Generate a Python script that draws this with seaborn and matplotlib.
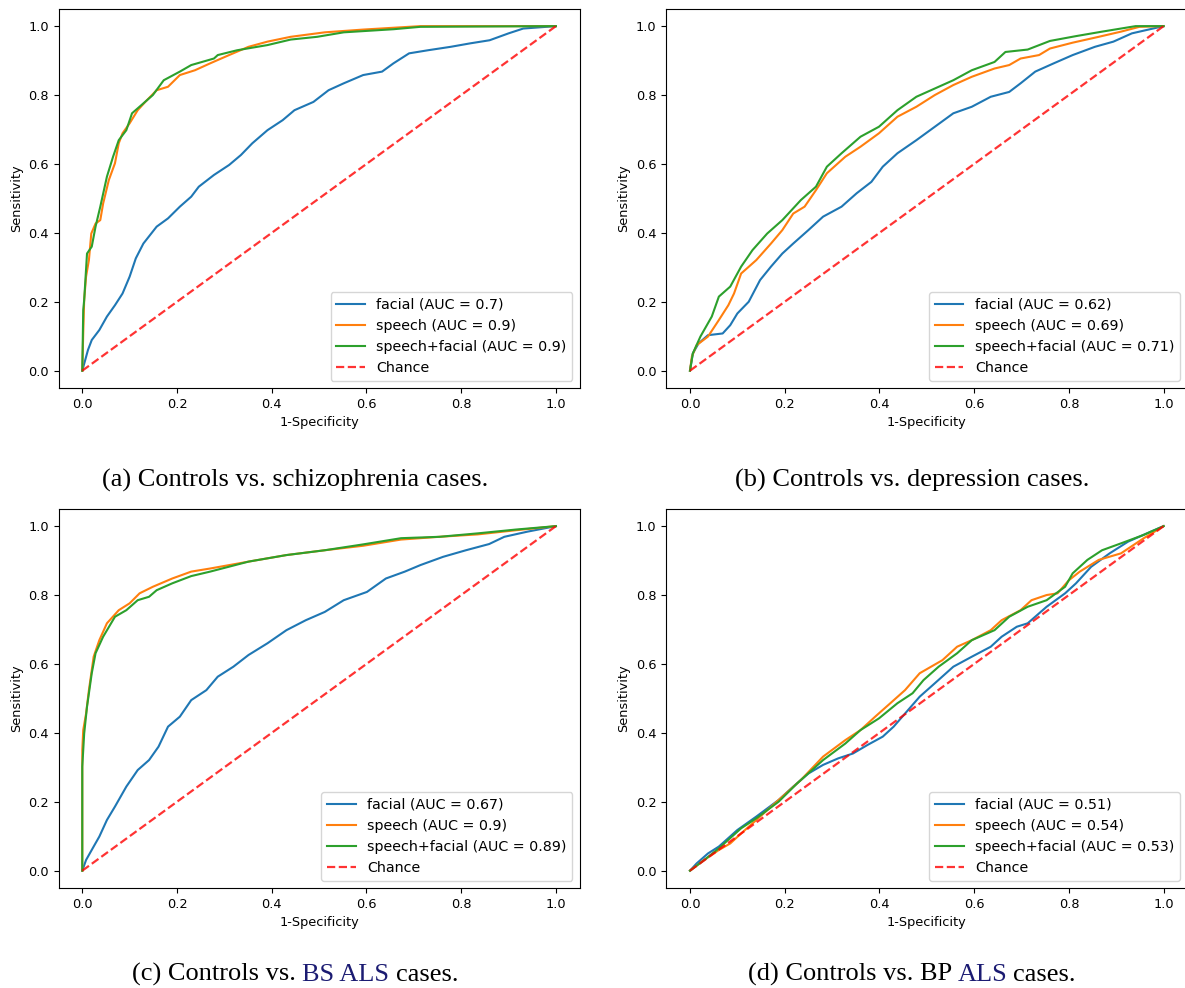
import matplotlib
matplotlib.use("Agg")
import matplotlib.pyplot as plt
import seaborn as sns
import pandas as pd

# ---------------- ROC curve points (false positive rate, true positive rate) ----------------
# (a) controls vs. schizophrenia
scz_facial_fpr = [0, 0.012, 0.02, 0.036, 0.052, 0.069, 0.085, 0.10, 0.113, 0.129, 0.157, 0.181, 0.206,
                  0.23, 0.246, 0.278, 0.31, 0.335, 0.359, 0.391, 0.423, 0.448, 0.488, 0.52, 0.552, 0.593,
                  0.633, 0.657, 0.69, 0.73, 0.778, 0.819, 0.86, 0.90, 0.931, 1.0]
scz_facial_tpr = [0, 0.06, 0.089, 0.118, 0.157, 0.19, 0.224, 0.273, 0.326, 0.369, 0.418, 0.442, 0.476,
                  0.505, 0.534, 0.568, 0.597, 0.626, 0.66, 0.698, 0.727, 0.756, 0.78, 0.814, 0.834, 0.858,
                  0.868, 0.892, 0.921, 0.93, 0.94, 0.95, 0.959, 0.979, 0.993, 1.0]
scz_speech_fpr = [0, 0.002, 0.004, 0.008, 0.014, 0.019, 0.028, 0.038, 0.044, 0.056, 0.069, 0.077, 0.085,
                  0.10, 0.117, 0.133, 0.157, 0.181, 0.206, 0.238, 0.27, 0.31, 0.351, 0.391, 0.44, 0.512,
                  0.593, 0.714, 1.0]
scz_speech_tpr = [0, 0.108, 0.205, 0.273, 0.321, 0.398, 0.427, 0.437, 0.485, 0.553, 0.602, 0.66, 0.689,
                  0.718, 0.756, 0.78, 0.814, 0.824, 0.858, 0.872, 0.892, 0.916, 0.94, 0.955, 0.969, 0.982,
                  0.99, 1.0, 1.0]
scz_both_fpr = [0, 0.002, 0.004, 0.01, 0.02, 0.028, 0.038, 0.052, 0.065, 0.077, 0.093, 0.105, 0.125,
                0.149, 0.172, 0.206, 0.23, 0.278, 0.286, 0.327, 0.391, 0.44, 0.496, 0.552, 0.657, 0.714, 1.0]
scz_both_tpr = [0, 0.176, 0.205, 0.34, 0.36, 0.418, 0.476, 0.563, 0.621, 0.669, 0.698, 0.747, 0.771,
                0.80, 0.843, 0.868, 0.887, 0.906, 0.916, 0.93, 0.945, 0.961, 0.969, 0.982, 0.991, 0.998, 1.0]

# (b) controls vs. depression
dep_facial_fpr = [0, 0.006, 0.018, 0.038, 0.069, 0.085, 0.10, 0.124, 0.148, 0.171, 0.195, 0.218, 0.25,
                  0.281, 0.32, 0.352, 0.383, 0.407, 0.438, 0.478, 0.517, 0.556, 0.595, 0.635, 0.674, 0.698,
                  0.729, 0.768, 0.808, 0.855, 0.894, 0.933, 1.0]
dep_facial_tpr = [0, 0.05, 0.079, 0.103, 0.108, 0.132, 0.166, 0.20, 0.263, 0.302, 0.34, 0.369, 0.408,
                  0.447, 0.476, 0.515, 0.548, 0.592, 0.631, 0.669, 0.708, 0.747, 0.766, 0.795, 0.809, 0.834,
                  0.868, 0.892, 0.916, 0.94, 0.955, 0.979, 1.0]
dep_speech_fpr = [0, 0.004, 0.014, 0.038, 0.061, 0.081, 0.093, 0.108, 0.14, 0.171, 0.195, 0.218, 0.242,
                  0.266, 0.289, 0.328, 0.36, 0.399, 0.438, 0.478, 0.517, 0.556, 0.595, 0.643, 0.674, 0.698,
                  0.737, 0.76, 0.808, 0.863, 0.91, 0.949, 1.0]
dep_speech_tpr = [0, 0.041, 0.074, 0.099, 0.147, 0.19, 0.224, 0.282, 0.321, 0.369, 0.408, 0.456, 0.476,
                  0.524, 0.573, 0.621, 0.65, 0.689, 0.737, 0.766, 0.80, 0.829, 0.853, 0.877, 0.887, 0.906,
                  0.916, 0.935, 0.952, 0.969, 0.984, 0.998, 1.0]
dep_both_fpr = [0, 0.006, 0.022, 0.046, 0.061, 0.085, 0.108, 0.132, 0.163, 0.195, 0.234, 0.266, 0.289,
                0.32, 0.36, 0.399, 0.438, 0.478, 0.517, 0.556, 0.595, 0.643, 0.666, 0.713, 0.76, 0.815,
                0.87, 0.941, 1.0]
dep_both_tpr = [0, 0.05, 0.099, 0.157, 0.215, 0.244, 0.302, 0.35, 0.398, 0.437, 0.495, 0.534, 0.592,
                0.631, 0.679, 0.708, 0.756, 0.795, 0.819, 0.843, 0.872, 0.896, 0.925, 0.932, 0.957, 0.971,
                0.984, 1.0, 1.0]

# (c) controls vs. BS ALS
bs_facial_fpr = [0, 0.008, 0.024, 0.036, 0.052, 0.069, 0.093, 0.117, 0.141, 0.161, 0.181, 0.206, 0.23,
                 0.262, 0.286, 0.319, 0.351, 0.391, 0.431, 0.472, 0.512, 0.552, 0.601, 0.641, 0.681, 0.714,
                 0.762, 0.81, 0.859, 0.891, 0.94, 1.0]
bs_facial_tpr = [0, 0.031, 0.07, 0.099, 0.147, 0.186, 0.244, 0.292, 0.321, 0.36, 0.418, 0.447, 0.495,
                 0.524, 0.563, 0.592, 0.626, 0.66, 0.698, 0.727, 0.751, 0.785, 0.809, 0.848, 0.868, 0.887,
                 0.911, 0.93, 0.948, 0.969, 0.984, 1.0]
bs_speech_fpr = [0, 0, 0.002, 0.008, 0.014, 0.024, 0.036, 0.052, 0.077, 0.10, 0.121, 0.149, 0.19, 0.23,
                 0.27, 0.351, 0.431, 0.512, 0.593, 0.673, 0.754, 0.835, 0.915, 1.0]
bs_speech_tpr = [0, 0.35, 0.408, 0.456, 0.524, 0.621, 0.669, 0.718, 0.756, 0.776, 0.805, 0.824, 0.848,
                 0.868, 0.877, 0.897, 0.916, 0.93, 0.943, 0.961, 0.969, 0.976, 0.988, 1.0]
bs_both_fpr = [0, 0, 0.004, 0.01, 0.02, 0.028, 0.044, 0.069, 0.093, 0.117, 0.141, 0.157, 0.19, 0.23,
               0.27, 0.351, 0.431, 0.512, 0.593, 0.673, 0.754, 0.835, 0.915, 1.0]
bs_both_tpr = [0, 0.302, 0.398, 0.476, 0.573, 0.631, 0.679, 0.737, 0.756, 0.785, 0.795, 0.814, 0.834,
               0.855, 0.868, 0.897, 0.916, 0.93, 0.947, 0.965, 0.969, 0.979, 0.99, 1.0]

# (d) controls vs. BP ALS
bp_facial_fpr = [0, 0.014, 0.038, 0.061, 0.10, 0.14, 0.187, 0.218, 0.25, 0.281, 0.313, 0.344, 0.375,
                 0.407, 0.43, 0.454, 0.485, 0.517, 0.556, 0.595, 0.635, 0.658, 0.69, 0.713, 0.753, 0.792,
                 0.815, 0.847, 0.886, 0.925, 0.973, 1.0]
bp_facial_tpr = [0, 0.021, 0.05, 0.07, 0.118, 0.157, 0.205, 0.244, 0.282, 0.307, 0.326, 0.34, 0.365,
                 0.389, 0.418, 0.456, 0.505, 0.544, 0.592, 0.621, 0.65, 0.679, 0.708, 0.718, 0.766, 0.805,
                 0.834, 0.882, 0.921, 0.955, 0.984, 1.0]
bp_speech_fpr = [0, 0.03, 0.061, 0.085, 0.108, 0.14, 0.187, 0.234, 0.281, 0.328, 0.36, 0.391, 0.423,
                 0.454, 0.485, 0.533, 0.564, 0.595, 0.635, 0.658, 0.698, 0.721, 0.753, 0.776, 0.80, 0.823,
                 0.863, 0.91, 0.957, 1.0]
bp_speech_tpr = [0, 0.031, 0.06, 0.079, 0.108, 0.147, 0.205, 0.263, 0.331, 0.379, 0.408, 0.447, 0.486,
                 0.524, 0.573, 0.611, 0.65, 0.669, 0.698, 0.727, 0.756, 0.785, 0.80, 0.805, 0.843, 0.868,
                 0.902, 0.921, 0.964, 1.0]
bp_both_fpr = [0, 0.03, 0.061, 0.108, 0.14, 0.187, 0.226, 0.281, 0.328, 0.36, 0.399, 0.438, 0.47, 0.493,
               0.525, 0.564, 0.595, 0.643, 0.674, 0.713, 0.753, 0.792, 0.808, 0.839, 0.87, 0.91, 0.957, 1.0]
bp_both_tpr = [0, 0.031, 0.065, 0.123, 0.152, 0.20, 0.253, 0.321, 0.369, 0.408, 0.442, 0.486, 0.515,
               0.553, 0.592, 0.631, 0.669, 0.698, 0.737, 0.766, 0.785, 0.824, 0.863, 0.902, 0.93, 0.95,
               0.974, 1.0]

# AUC values shown in each legend: facial, speech, speech+facial
scz_auc = ["0.7", "0.9", "0.9"]
dep_auc = ["0.62", "0.69", "0.71"]
bs_auc = ["0.67", "0.9", "0.89"]
bp_auc = ["0.51", "0.54", "0.53"]

series_names = ["facial", "speech", "speech+facial"]
series_colors = ["#1f77b4", "#ff7f0e", "#2ca02c"]

# Sub-figure captions: list of (text, colour) fragments
NAVY = "#1b1b72"
captions = [
    [("(a) Controls vs. schizophrenia cases.", "black")],
    [("(b) Controls vs. depression cases.", "black")],
    [("(c) Controls vs. ", "black"), ("BS ALS", NAVY), (" cases.", "black")],
    [("(d) Controls vs. BP ", "black"), ("ALS", NAVY), (" cases.", "black")],
]

panels = [
    ([scz_facial_fpr, scz_speech_fpr, scz_both_fpr], [scz_facial_tpr, scz_speech_tpr, scz_both_tpr], scz_auc),
    ([dep_facial_fpr, dep_speech_fpr, dep_both_fpr], [dep_facial_tpr, dep_speech_tpr, dep_both_tpr], dep_auc),
    ([bs_facial_fpr, bs_speech_fpr, bs_both_fpr], [bs_facial_tpr, bs_speech_tpr, bs_both_tpr], bs_auc),
    ([bp_facial_fpr, bp_speech_fpr, bp_both_fpr], [bp_facial_tpr, bp_speech_tpr, bp_both_tpr], bp_auc),
]

# ---------------- figure layout (pixels) ----------------
W, H = 1185, 988
fig = plt.figure(figsize=(W / 100, H / 100), dpi=100)
fig.patch.set_facecolor("white")

ax_w, ax_h = 521.0, 379.0
ax_lefts = [58.6, 666.3, 58.6, 666.3]
ax_bottoms = [387.9, 387.9, 887.9, 887.9]   # distance from top of figure
cap_centers = [295, 912, 295, 912]
cap_baselines = [487, 487, 981, 981]

TICK_FS = 9.3
LABEL_FS = 9.3
LEGEND_FS = 10.3

for i, (fprs, tprs, aucs) in enumerate(panels):
    ax = fig.add_axes([ax_lefts[i] / W, (H - ax_bottoms[i]) / H, ax_w / W, ax_h / H])
    for fpr, tpr, auc, name, color in zip(fprs, tprs, aucs, series_names, series_colors):
        df = pd.DataFrame({"fpr": fpr, "tpr": tpr})
        sns.lineplot(data=df, x="fpr", y="tpr", ax=ax, sort=False, estimator=None,
                     color=color, linewidth=1.5, label=f"{name} (AUC = {auc})")
    ax.plot([0, 1], [0, 1], linestyle="--", lw=1.6, color="r", alpha=0.8, label="Chance")
    ax.set_xlim(-0.05, 1.05)
    ax.set_ylim(-0.05, 1.05)
    ax.set_xticks([0, 0.2, 0.4, 0.6, 0.8, 1.0])
    ax.set_yticks([0, 0.2, 0.4, 0.6, 0.8, 1.0])
    ax.tick_params(labelsize=TICK_FS)
    ax.set_xlabel("1-Specificity", fontsize=LABEL_FS)
    ax.set_ylabel("Sensitivity", fontsize=LABEL_FS)
    ax.legend(loc="lower right", fontsize=LEGEND_FS)

# ---------------- captions with coloured fragments ----------------
CAP_FONT = "Liberation Serif"
CAP_FS = 19
renderer = fig.canvas.get_renderer()


def text_width(s):
    t = fig.text(0, 0, s, fontsize=CAP_FS, family=CAP_FONT)
    w = t.get_window_extent(renderer=renderer).width
    t.remove()
    return w


for parts, xc, yb in zip(captions, cap_centers, cap_baselines):
    full = "".join(p[0] for p in parts)
    total = text_width(full)
    x0 = xc - total / 2.0
    bar_w = text_width("|")
    prefix = ""
    for s, color in parts:
        lead = len(s) - len(s.lstrip(" "))
        offset = text_width(prefix + s[:lead] + "|") - bar_w if prefix or lead else 0.0
        fig.text((x0 + offset) / W, (H - yb) / H, s.strip(" "), fontsize=CAP_FS,
                 family=CAP_FONT, color=color, ha="left", va="baseline")
        prefix += s

fig.savefig("out.png", dpi=100, facecolor="white")
